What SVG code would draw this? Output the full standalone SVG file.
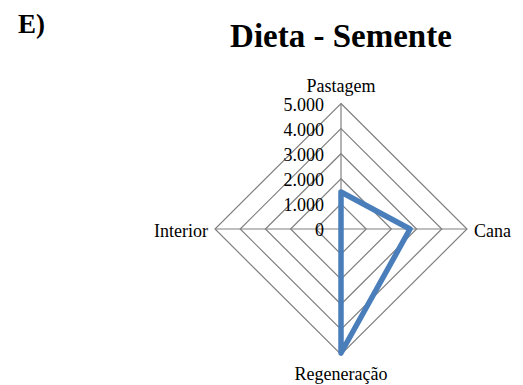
<svg xmlns="http://www.w3.org/2000/svg" width="523" height="385" viewBox="0 0 523 385">
<style>
text{font-family:"Liberation Serif","Times New Roman",serif;fill:#000}
.grid{fill:none;stroke:#808080;stroke-width:1.2}
.lbl{font-size:18px}
.tick{font-size:18px;text-anchor:end}
.series{fill:none;stroke:#4a7ebb;stroke-width:5.5;stroke-linejoin:round}
</style>
<rect width="523" height="385" fill="#fff"/>
<text x="18" y="33" font-size="27" font-weight="bold">E)</text>
<text x="341" y="47" font-size="33" font-weight="bold" text-anchor="middle">Dieta - Semente</text>
<g id="grid" class="grid">
<polygon points="341,103.5 467,229 341,354.5 215,229"/>
<polygon points="341,128.6 441.8,229 341,329.4 240.2,229"/>
<polygon points="341,153.7 416.6,229 341,304.3 265.4,229"/>
<polygon points="341,178.8 391.4,229 341,279.2 290.6,229"/>
<polygon points="341,203.9 366.2,229 341,254.1 315.8,229"/>
<line x1="341" y1="103.5" x2="341" y2="354.5"/>
<line x1="215" y1="229" x2="467" y2="229"/>
</g>
<g id="ticks" class="tick">
<text x="324" y="110.5">5.000</text>
<text x="324" y="135.6">4.000</text>
<text x="324" y="160.7">3.000</text>
<text x="324" y="185.8">2.000</text>
<text x="324" y="210.9">1.000</text>
<text x="324" y="236">0</text>
</g>
<g id="node-pastagem"><text class="lbl" x="341" y="92" text-anchor="middle">Pastagem</text></g>
<g id="node-cana"><text class="lbl" x="474" y="237">Cana</text></g>
<g id="node-regeneracao"><text class="lbl" x="341" y="380" text-anchor="middle">Regeneração</text></g>
<g id="node-interior"><text class="lbl" x="208" y="237" text-anchor="end">Interior</text></g>
<g id="connectors">
<polygon class="series" points="341,192 410,229 341,353 341,229"/>
</g>
</svg>
